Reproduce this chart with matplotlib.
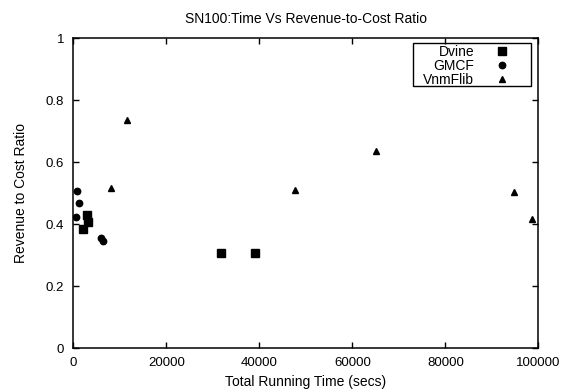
import matplotlib
matplotlib.use("Agg")
import matplotlib.pyplot as plt
from matplotlib.patches import Rectangle

plt.rcParams['font.family'] = ['Liberation Sans', 'DejaVu Sans']

# running time (secs) vs revenue/cost ratio for each algorithm
dvine_time = [2000, 3000, 3100, 31800, 39100]
dvine_ratio = [0.385, 0.428, 0.405, 0.308, 0.306]

gmcf_time = [700, 1200, 500, 5900, 6400]
gmcf_ratio = [0.506, 0.469, 0.422, 0.355, 0.346]

vnm_time = [8100, 11500, 47600, 65100, 94800, 98600]
vnm_ratio = [0.516, 0.737, 0.509, 0.637, 0.504, 0.415]

fig = plt.figure(figsize=(5.64, 3.92), dpi=100)
ax = fig.add_axes([0.130, 0.1122, 0.8245, 0.7908])

ax.plot(dvine_time, dvine_ratio, 's', color='black', ms=5.2, label='Dvine')
ax.plot(gmcf_time, gmcf_ratio, 'o', color='black', ms=4.6, label='GMCF')
ax.plot(vnm_time, vnm_ratio, '^', color='black', ms=4.2, label='VnmFlib')

ax.set_xlim(0, 100000)
ax.set_ylim(0, 1)
ax.set_xticks([0, 20000, 40000, 60000, 80000, 100000])
ax.set_yticks([0, 0.2, 0.4, 0.6, 0.8, 1])
ax.set_yticklabels(['0', '0.2', '0.4', '0.6', '0.8', '1'])
ax.tick_params(direction='in', top=True, right=True, length=4, width=1,
               labelsize=9.5, pad=6.5)
for s in ax.spines.values():
    s.set_linewidth(1.1)

ax.set_xlabel('Total Running Time (secs)', fontsize=10, labelpad=4)
ax.set_ylabel('Revenue to Cost Ratio', fontsize=10, labelpad=13)
ax.set_title('SN100:Time Vs Revenue-to-Cost Ratio', fontsize=10, pad=11)

# key: labels right-aligned, symbol on the right, boxed like gnuplot
leg = ax.legend(loc='upper right', bbox_to_anchor=(0.936, 0.977),
                markerfirst=False, frameon=False,
                fontsize=10, handlelength=1.0, handletextpad=1.47,
                borderpad=0, labelspacing=0.0, borderaxespad=0)
for t in leg.get_texts():
    t.set_ha('right')
ax.add_patch(Rectangle((0.7305, 0.846), 0.2535, 0.138, transform=ax.transAxes,
                       fill=False, edgecolor='black', linewidth=1.0,
                       zorder=5, clip_on=False))

fig.savefig('out.png', dpi=100)
